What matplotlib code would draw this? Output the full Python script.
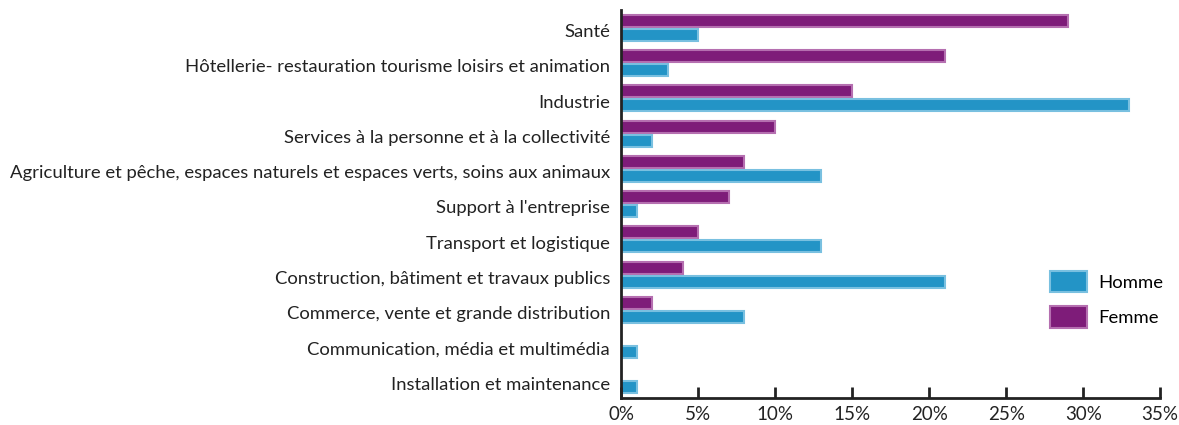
#!/usr/bin/env python3

import numpy as np
import matplotlib
matplotlib.use('Agg')
import matplotlib.pyplot as plt
from matplotlib.patches import Patch

categories = [
    'Santé',
    'Hôtellerie- restauration tourisme loisirs et animation',
    'Industrie',
    'Services à la personne et à la collectivité',
    'Agriculture et pêche, espaces naturels et espaces verts, soins aux animaux',
    "Support à l'entreprise",
    'Transport et logistique',
    'Construction, bâtiment et travaux publics',
    'Commerce, vente et grande distribution',
    'Communication, média et multimédia',
    'Installation et maintenance',
]
femme = [29, 21, 15, 10, 8, 7, 5, 4, 2, 0, 0]
homme = [5, 3, 33, 2, 13, 1, 13, 21, 8, 1, 1]
x_ticks = [0, 5, 10, 15, 20, 25, 30, 35]
x_tick_labels = ['0%', '5%', '10%', '15%', '20%', '25%', '30%', '35%']

BLUE = '#2394c6'
BLUE_EDGE = '#79c0e0'
PURPLE = '#7e1c79'
PURPLE_EDGE = '#b56fb0'

plt.rcParams['font.family'] = ['Lato', 'DejaVu Sans']


def main():
    fig = plt.figure(figsize=(11.79, 4.25), dpi=100)
    ax = fig.add_axes([0.527, 0.0635, 0.457, 0.9125])

    y = np.arange(len(categories))
    h = 0.34
    ax.barh(y - 0.2, femme, height=h, color=PURPLE, edgecolor=PURPLE_EDGE, linewidth=1.5)
    ax.barh(y + 0.2, homme, height=h, color=BLUE, edgecolor=BLUE_EDGE, linewidth=1.5)

    ax.set_ylim(10.5, -0.5)
    ax.set_xlim(0, 35)
    ax.set_yticks(y + 0.08)
    ax.set_yticklabels(categories, fontsize=13.3, color='#222222')
    ax.tick_params(axis='y', length=0, pad=8)
    ax.set_xticks(x_ticks)
    ax.set_xticklabels(x_tick_labels, fontsize=13.5, color='#222222')
    ax.tick_params(axis='x', direction='in', length=8, width=2, color='#222222', pad=6)

    for side in ['top', 'right']:
        ax.spines[side].set_visible(False)
    for side in ['left', 'bottom']:
        ax.spines[side].set_linewidth(2)
        ax.spines[side].set_color('#222222')

    handles = [Patch(facecolor=BLUE, edgecolor=BLUE_EDGE, linewidth=1.5, label='Homme'),
               Patch(facecolor=PURPLE, edgecolor=PURPLE_EDGE, linewidth=1.5, label='Femme')]
    ax.legend(handles=handles, loc='upper left', bbox_to_anchor=(0.765, 0.37), frameon=False,
              fontsize=13.3, handlelength=2.0, handleheight=1.4, labelspacing=0.75, handletextpad=0.6)

    fig.savefig('out.png', dpi=100)


if __name__ == '__main__':
    main()
